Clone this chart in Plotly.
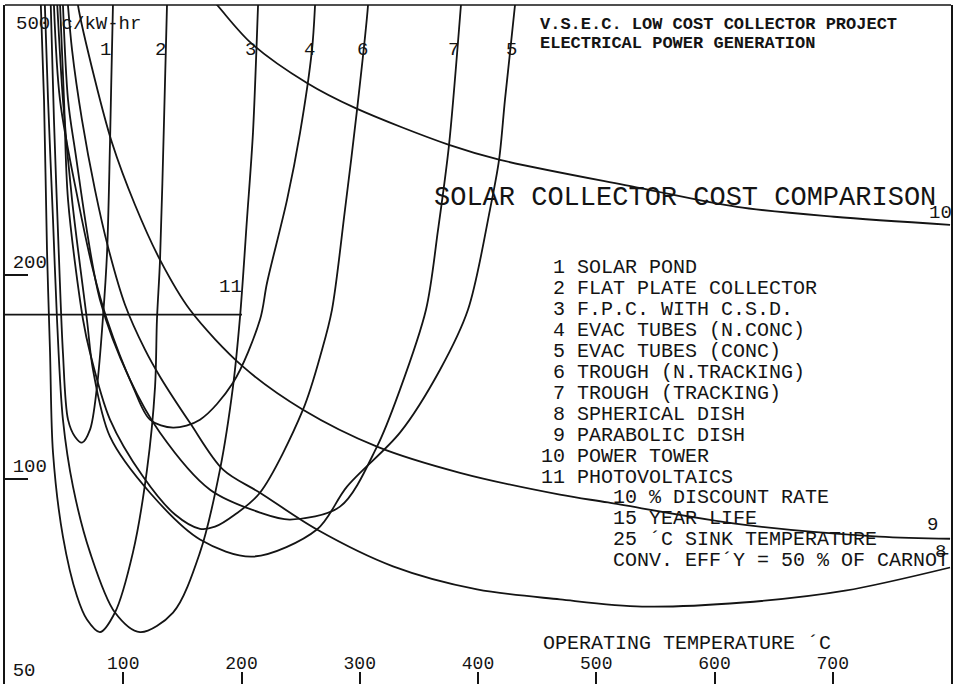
import math
import plotly.graph_objects as go

FONT = "Liberation Mono"
INK = "#141414"

# ---- data: operating temperature (deg C) vs cost (c/kW-hr) ----
temp_1 = [38.1, 41.4, 45.7, 49.0, 53.3, 59.2, 65.1, 71.9, 77.8, 82.9, 86.3, 88.8, 91.3, 92.2]
cost_1 = [544, 338.6, 210.5, 153.6, 122.4, 115.5, 113.2, 118.3, 136.9, 173.6, 215.6, 313.2, 500, 544]

temp_2 = [29.6, 33.0, 35.5, 38.1, 40.6, 49.0, 60.9, 69.3, 80.3, 93.0, 108.2, 120.1, 126.9, 128.5, 131.1, 134.5, 137.0, 137.8]
cost_2 = [544, 362.4, 217.8, 153.6, 109.4, 82.3, 67.2, 62.1, 59.5, 63.6, 78.0, 103.3, 136.9, 171.8, 210.5, 338.6, 500, 544]

temp_3 = [33.0, 36.4, 40.6, 44.0, 49.0, 57.5, 71.9, 93.0, 114.2, 142.1, 164.9, 181.8, 192.8, 198.7, 204.6, 209.7, 214.0, 214.8]
cost_3 = [544, 362.4, 241.2, 171.8, 122.4, 97.5, 78.0, 63.6, 59.5, 63.6, 78.0, 103.3, 136.9, 173.0, 241.2, 324.0, 500, 544]

temp_4 = [40.6, 46.5, 61.7, 74.4, 86.3, 108.2, 122.6, 142.1, 164.9, 192.8, 215.6, 221.6, 238.5, 249.5, 259.6, 262.2, 263.0]
cost_4 = [544, 362.4, 258.1, 203.5, 171.8, 136.9, 122.4, 119.1, 122.4, 138.7, 171.8, 194.8, 258.1, 324.0, 429.3, 500, 544]

temp_5 = [43.1, 49.0, 56.7, 69.3, 74.4, 88.8, 122.6, 164.9, 209.7, 263.8, 289.2, 334.0, 367.9, 391.5, 410.1, 417.8, 422.8, 431.3, 433.0]
cost_5 = [544, 362.4, 258.1, 171.8, 145.0, 115.5, 95.5, 81.5, 76.9, 84.3, 97.5, 117.1, 145.0, 177.7, 249.5, 295.6, 362.4, 500, 544]

temp_6 = [45.7, 49.9, 53.3, 66.0, 71.9, 88.8, 116.7, 143.8, 164.9, 177.6, 194.5, 215.6, 252.0, 268.1, 276.5, 287.5, 297.7, 307.0, 307.8]
cost_6 = [544, 362.4, 258.1, 171.8, 153.6, 122.4, 100.9, 88.7, 84.5, 85.1, 88.7, 95.5, 126.6, 155.2, 177.7, 249.5, 350.3, 500, 544]

temp_7 = [48.2, 53.3, 59.2, 80.3, 105.7, 131.1, 173.4, 215.6, 241.0, 283.3, 314.6, 334.0, 356.0, 366.2, 375.5, 385.6, 387.3]
cost_7 = [544, 362.4, 305.8, 183.9, 140.2, 117.1, 96.5, 89.3, 87.2, 91.1, 111.7, 135.5, 177.7, 233.1, 311.0, 500, 544]

temp_8 = [51.6, 56.7, 65.1, 76.1, 87.1, 101.5, 118.4, 131.1, 156.4, 184.4, 215.6, 263.8, 328.1, 399.2, 469.3, 538.7, 624.1, 710.4, 799.2]
cost_8 = [544, 429.3, 338.6, 267.0, 220.0, 180.8, 155.2, 141.6, 121.1, 103.3, 95.5, 84.3, 74.4, 68.8, 66.5, 64.9, 65.8, 68.5, 74.1]

temp_9 = [60.0, 61.7, 76.1, 90.5, 109.9, 131.1, 156.4, 201.3, 252.0, 314.6, 384.8, 469.3, 509.9, 624.1, 739.1, 799.2]
cost_9 = [544, 500, 387.6, 313.2, 253.8, 210.5, 177.7, 146.5, 126.6, 111.7, 102.2, 94.9, 92.4, 85.7, 82.3, 81.7]

temp_10 = [160.7, 179.3, 208.0, 255.4, 296.0, 375.5, 418.6, 536.2, 619.0, 701.1, 799.2]
cost_10 = [544, 500, 439.6, 383.7, 352.6, 311.0, 295.6, 268.8, 252.0, 243.7, 237.1]

temp_11 = [0, 200.4]
cost_11 = [174.8, 174.8]

curves = [(temp_1, cost_1), (temp_2, cost_2), (temp_3, cost_3), (temp_4, cost_4),
          (temp_5, cost_5), (temp_6, cost_6), (temp_7, cost_7), (temp_8, cost_8),
          (temp_9, cost_9), (temp_10, cost_10)]

legend_items = ["1 SOLAR POND", "2 FLAT PLATE COLLECTOR", "3 F.P.C. WITH C.S.D.",
                "4 EVAC TUBES (N.CONC)", "5 EVAC TUBES (CONC)", "6 TROUGH (N.TRACKING)",
                "7 TROUGH (TRACKING)", "8 SPHERICAL DISH", "9 PARABOLIC DISH",
                "10 POWER TOWER", "11 PHOTOVOLTAICS"]
notes = ["10 % DISCOUNT RATE", "15 YEAR LIFE", "25 \u00b4C SINK TEMPERATURE",
         "CONV. EFF\u00b4Y = 50 % OF CARNOT"]

x_ticks = [100, 200, 300, 400, 500, 600, 700]
y_ticks = [50, 100, 200]

# curve number labels: (text, temperature, cost)
curve_labels = [("1", 85.4, 429.3), ("2", 131.1, 429.3), ("3", 208.0, 429.3),
                ("4", 257.1, 429.3), ("6", 301.9, 429.3), ("7", 378.9, 429.3),
                ("5", 428.7, 429.3), ("10", 790.7, 247.0), ("9", 784.0, 85.7),
                ("8", 790.7, 78.0), ("11", 190.3, 192.2)]

fig = go.Figure()
for t, c in curves:
    fig.add_trace(go.Scatter(x=t, y=c, mode="lines",
                             line=dict(color=INK, width=1.8, shape="spline", smoothing=0.9),
                             hoverinfo="skip", showlegend=False))
fig.add_trace(go.Scatter(x=temp_11, y=cost_11, mode="lines",
                         line=dict(color=INK, width=1.8), hoverinfo="skip", showlegend=False))

# plot-area pixel helpers for text placement
L, R, T, B = 5, 951, 5, 684
def px(xp):
    return (xp - L) / (R - L)
def py(yp):
    return (B - yp) / (B - T)

ann = []
for txt, tx, cy in curve_labels:
    ann.append(dict(x=tx, y=math.log10(cy), xref="x", yref="y", text=txt, showarrow=False,
                    font=dict(family=FONT, size=19, color=INK), xanchor="center", yanchor="middle"))

ann.append(dict(x=px(14), y=py(24), xref="paper", yref="paper", text="500 c/kW-hr",
                showarrow=False, xanchor="left", yanchor="middle",
                font=dict(family=FONT, size=19, color=INK)))
ann.append(dict(x=px(538), y=py(24), xref="paper", yref="paper",
                text="<b>V.S.E.C. LOW COST COLLECTOR PROJECT</b>", showarrow=False,
                xanchor="left", yanchor="middle", font=dict(family=FONT, size=17, color=INK)))
ann.append(dict(x=px(538), y=py(43), xref="paper", yref="paper",
                text="<b>ELECTRICAL POWER GENERATION</b>", showarrow=False,
                xanchor="left", yanchor="middle", font=dict(family=FONT, size=17, color=INK)))
ann.append(dict(x=px(432), y=py(198), xref="paper", yref="paper",
                text="SOLAR COLLECTOR COST COMPARISON", showarrow=False,
                xanchor="left", yanchor="middle", font=dict(family=FONT, size=27, color=INK)))
for i, item in enumerate(legend_items):
    x0 = 539 if item[1].isdigit() else 551
    ann.append(dict(x=px(x0), y=py(268 + 20.9 * i), xref="paper", yref="paper", text=item,
                    showarrow=False, xanchor="left", yanchor="middle",
                    font=dict(family=FONT, size=20, color=INK)))
for j, note in enumerate(notes):
    ann.append(dict(x=px(611), y=py(268 + 20.9 * (11 + j)), xref="paper", yref="paper", text=note,
                    showarrow=False, xanchor="left", yanchor="middle",
                    font=dict(family=FONT, size=20, color=INK)))
ann.append(dict(x=px(541), y=py(643), xref="paper", yref="paper",
                text="OPERATING TEMPERATURE \u00b4C", showarrow=False,
                xanchor="left", yanchor="middle", font=dict(family=FONT, size=20, color=INK)))

fig.update_layout(
    width=960, height=684,
    margin=dict(l=L, r=960 - R, t=T, b=0, autoexpand=False),
    paper_bgcolor="white", plot_bgcolor="white",
    showlegend=False,
    annotations=ann,
    xaxis=dict(range=[0, 800], tickvals=x_ticks, ticktext=[str(v) for v in x_ticks],
               ticks="inside", ticklen=12, tickwidth=1.5, tickcolor=INK,
               ticklabelposition="inside", ticklabeloverflow="allow", automargin=False,
               showgrid=False, zeroline=False, showline=False,
               tickfont=dict(family=FONT, size=18, color=INK)),
    yaxis=dict(type="log", range=[math.log10(49.9), math.log10(500)],
               tickvals=y_ticks, ticktext=[str(v) for v in y_ticks],
               ticks="inside", ticklen=23, tickwidth=1.5, tickcolor=INK,
               ticklabelposition="inside top", ticklabelstandoff=8,
               ticklabeloverflow="allow", automargin=False,
               showgrid=False, zeroline=False, showline=True, mirror=True,
               linecolor=INK, linewidth=1.5,
               tickfont=dict(family=FONT, size=19, color=INK)),
    shapes=[dict(type="line", xref="paper", yref="paper", x0=0, x1=1, y0=1, y1=1,
                 line=dict(color=INK, width=1.5))],
)

fig.write_html("out.html")
